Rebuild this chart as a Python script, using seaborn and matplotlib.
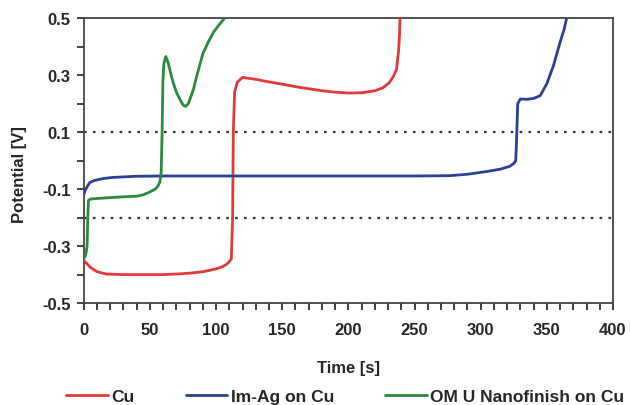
import numpy as np
import pandas as pd
import seaborn as sns
import matplotlib.pyplot as plt
from matplotlib.ticker import MultipleLocator

# --- data ---
cu_t = [0, 2, 5, 10, 17, 30, 50, 60, 70, 80, 90, 100, 105, 109, 111.5, 112.5, 113, 114, 116, 120,
        130, 140, 150, 163, 180, 190, 200, 210, 220, 226, 231, 234, 236.4, 238, 238.7, 239]
cu_v = [-0.35, -0.36, -0.375, -0.39, -0.398, -0.40, -0.40, -0.40, -0.398, -0.395, -0.39, -0.38, -0.372,
        -0.36, -0.345, -0.2, 0.1, 0.24, 0.275, 0.292, 0.285, 0.276, 0.268, 0.257, 0.245, 0.24, 0.237,
        0.238, 0.245, 0.255, 0.274, 0.295, 0.321, 0.39, 0.45, 0.5]

imag_t = [0, 1, 3, 4.5, 8, 14.6, 22, 40, 60, 100, 150, 200, 250, 276, 290, 305, 315, 322, 325,
          326.5, 327.3, 328, 330, 335, 340, 345, 350, 355, 360, 363, 365]
imag_v = [-0.12, -0.105, -0.088, -0.077, -0.07, -0.063, -0.059, -0.055, -0.054, -0.054, -0.054,
          -0.054, -0.054, -0.053, -0.048, -0.038, -0.03, -0.02, -0.01, 0.0, 0.1, 0.2, 0.216, 0.215,
          0.218, 0.228, 0.27, 0.333, 0.415, 0.46, 0.5]

om_t = [0, 1.5, 2.5, 3, 3.5, 5, 10, 20, 30, 40, 45, 50, 54, 56, 57.5, 58.5, 59.2, 59.8, 60.5,
        62, 64, 66, 67.5, 70, 72.5, 75, 77, 79, 81, 83, 85, 87.5, 90, 94, 98, 102, 106.5]
om_v = [-0.345, -0.33, -0.3, -0.2, -0.14, -0.135, -0.133, -0.13, -0.127, -0.125, -0.12, -0.11,
        -0.1, -0.09, -0.075, -0.04, 0.1, 0.28, 0.34, 0.365, 0.34, 0.3, 0.274, 0.24, 0.216, 0.195,
        0.19, 0.2, 0.225, 0.252, 0.29, 0.333, 0.375, 0.415, 0.45, 0.475, 0.5]

series_names = ['Cu', 'Im-Ag on Cu', 'OM U Nanofinish on Cu']
series_colors = ['#e03a3a', '#2c3f98', '#2a8a3e']
ref_levels = [0.1, -0.2]

x_ticks = [0, 50, 100, 150, 200, 250, 300, 350, 400]
y_ticks = [-0.5, -0.3, -0.1, 0.1, 0.3, 0.5]

# long-format table for seaborn
df = pd.concat([
    pd.DataFrame({'Time': cu_t, 'Potential': cu_v, 'series': series_names[0]}),
    pd.DataFrame({'Time': imag_t, 'Potential': imag_v, 'series': series_names[1]}),
    pd.DataFrame({'Time': om_t, 'Potential': om_v, 'series': series_names[2]}),
], ignore_index=True)

sns.set_style('ticks')
plt.rcParams['font.family'] = ['Liberation Sans', 'DejaVu Sans']
plt.rcParams['font.weight'] = 'bold'

fig = plt.figure(figsize=(6.3, 4.06), dpi=100)
ax = fig.add_axes([0.133, 0.251, 0.840, 0.702])

# dotted reference levels
for lvl in ref_levels:
    ax.axhline(lvl, color='#333333', linestyle=(0, (1.2, 2.8)), linewidth=1.6, zorder=1)

sns.lineplot(data=df, x='Time', y='Potential', hue='series', hue_order=series_names,
             palette=series_colors, sort=False, estimator=None, linewidth=2.0, ax=ax, zorder=3)

ax.set_xlim(0, 400)
ax.set_ylim(-0.5, 0.5)
ax.set_xticks(x_ticks)
ax.set_yticks(y_ticks)
ax.set_xticklabels([str(v) for v in x_ticks], fontweight='bold')
ax.set_yticklabels([f'{v:.1f}' for v in y_ticks], fontweight='bold')
ax.xaxis.set_minor_locator(MultipleLocator(10))
ax.yaxis.set_minor_locator(MultipleLocator(0.1))
ax.tick_params(axis='both', which='both', direction='out', length=5, width=1.3,
               color='#333333', labelsize=12, bottom=True, left=True, top=False, right=False)
ax.tick_params(axis='x', which='major', pad=8.5)
ax.tick_params(axis='y', which='major', pad=4.5)

for sp in ax.spines.values():
    sp.set_visible(True)
    sp.set_color('#444444')
    sp.set_linewidth(1.3)

ax.set_xlabel('Time [s]', fontsize=12, fontweight='bold')
ax.set_ylabel('Potential [V]', fontsize=12, fontweight='bold')
ax.xaxis.set_label_coords(0.5, -0.2)
ax.yaxis.set_label_coords(-0.108, 0.454)

handles, labels = ax.get_legend_handles_labels()
ax.get_legend().remove()
fig.legend(handles, labels, loc='center', bbox_to_anchor=(0.548, 0.022), ncol=3,
           frameon=False, handlelength=2.4, handletextpad=0.2, columnspacing=2.95,
           prop={'size': 12.5, 'weight': 'bold'})

plt.savefig('out.png', dpi=100)
plt.close()
